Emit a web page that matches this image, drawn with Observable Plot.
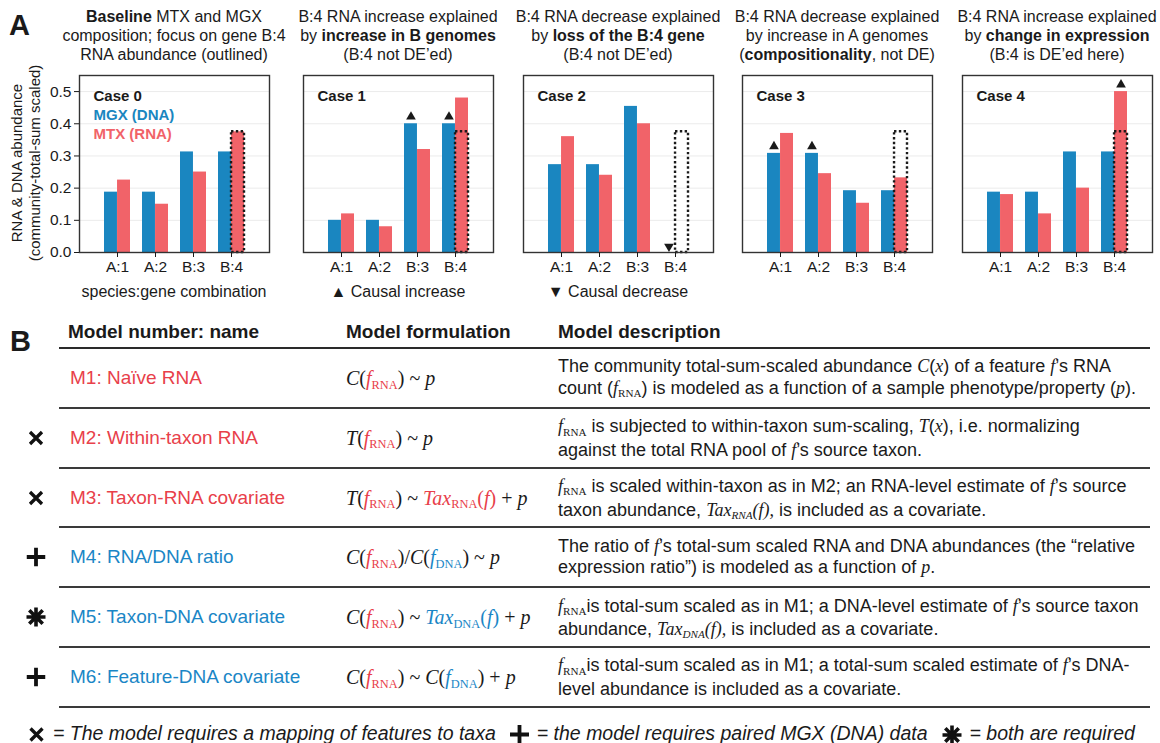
<!DOCTYPE html>
<html><head><meta charset="utf-8">
<script src="https://cdn.jsdelivr.net/npm/d3@7"></script>
<script src="https://cdn.jsdelivr.net/npm/@observablehq/plot@0.6"></script>
<style>
body{margin:0;background:#fff;}
#root{position:relative;width:1160px;height:743px;font-family:"Liberation Sans",Arial,sans-serif;color:#1a1a1a;overflow:hidden;background:#fff}
.abs{position:absolute;white-space:nowrap}
.mi{font-family:"Liberation Serif","DejaVu Serif",serif;font-style:italic}
.sb{font-family:"Liberation Serif","DejaVu Serif",serif;font-style:normal;font-size:0.62em;position:relative;top:0.3em}
.sbi{font-family:"Liberation Serif","DejaVu Serif",serif;font-style:italic;font-size:0.62em;position:relative;top:0.3em}
.r{color:#e8404a}
.bl{color:#1a86c6}
.ico{display:inline-block;vertical-align:middle}
</style></head><body><div id="root"></div><script>
// ---------------- DATA ----------------
const genes = ["A:1", "A:2", "B:3", "B:4"];
const caseNames = ["Case 0", "Case 1", "Case 2", "Case 3", "Case 4"];
// MGX (DNA) community-total-sum scaled abundance per case, per gene
const dnaValues = [
  [0.1875, 0.1875, 0.3125, 0.3125],
  [0.10, 0.10, 0.40, 0.40],
  [0.273, 0.273, 0.454, 0.0],
  [0.308, 0.308, 0.192, 0.192],
  [0.1875, 0.1875, 0.3125, 0.3125]
];
// MTX (RNA) community-total-sum scaled abundance per case, per gene
const rnaValues = [
  [0.225, 0.15, 0.25, 0.375],
  [0.12, 0.08, 0.32, 0.48],
  [0.36, 0.24, 0.40, 0.0],
  [0.37, 0.245, 0.153, 0.232],
  [0.18, 0.12, 0.20, 0.50]
];
const outlineGene = "B:4";
const outlineValue = 0.375; // baseline B:4 RNA abundance (dotted outline)
const yTicks = [0, 0.1, 0.2, 0.3, 0.4, 0.5];
const causalIncrease = [[], [["B:3", "DNA"], ["B:4", "DNA"]], [], [["A:1", "DNA"], ["A:2", "DNA"]], [["B:4", "RNA"]]];
const causalDecrease = [[], [], [["B:4", "DNA"]], [], []];
const panelTitles = [
  ["<b>Baseline</b> MTX and MGX", "composition; focus on gene B:4", "RNA abundance (outlined)"],
  ["B:4 RNA increase explained", "by <b>increase in B genomes</b>", "(B:4 not DE’ed)"],
  ["B:4 RNA decrease explained", "by <b>loss of the B:4 gene</b>", "(B:4 not DE’ed)"],
  ["B:4 RNA decrease explained", "by increase in A genomes", "(<b>compositionality</b>, not DE)"],
  ["B:4 RNA increase explained", "by <b>change in expression</b>", "(B:4 is DE’ed here)"]
];
const panelNotes = ["species:gene combination", "▲ Causal increase", "▼ Causal decrease", "", ""];
const legendLabels = ["MGX (DNA)", "MTX (RNA)"];
const yAxisTitle = ["RNA & DNA abundance", "(community-total-sum scaled)"];

// Panel B table
const headers = ["Model number: name", "Model formulation", "Model description"];
const modelNames = ["M1: Naïve RNA", "M2: Within-taxon RNA", "M3: Taxon-RNA covariate", "M4: RNA/DNA ratio", "M5: Taxon-DNA covariate", "M6: Feature-DNA covariate"];
const modelType = ["RNA", "RNA", "RNA", "DNA", "DNA", "DNA"];
const modelMarkers = ["", "cross", "cross", "plus", "star", "plus"];
const fR = `<span class="mi r">f</span><span class="sb r">RNA</span>`;
const fD = `<span class="mi bl">f</span><span class="sb bl">DNA</span>`;
const C = `<span class="mi">C</span>`, T = `<span class="mi">T</span>`, P = `<span class="mi">p</span>`;
const modelFormulas = [
  `${C}(${fR}) ~ ${P}`,
  `${T}(${fR}) ~ ${P}`,
  `${T}(${fR}) ~ <span class="r"><span class="mi">Tax</span><span class="sb">RNA</span>(<span class="mi">f</span>)</span> + ${P}`,
  `${C}(${fR})/${C}(${fD}) ~ ${P}`,
  `${C}(${fR}) ~ <span class="bl"><span class="mi">Tax</span><span class="sb">DNA</span>(<span class="mi">f</span>)</span> + ${P}`,
  `${C}(${fR}) ~ ${C}(${fD}) + ${P}`
];
const f = `<span class="mi">f</span>`;
const fRk = `<span class="mi">f</span><span class="sb">RNA</span>`;
const modelDescriptions = [
  [`The community total-sum-scaled abundance <span class="mi">C</span>(<span class="mi">x</span>) of a feature ${f}’s RNA`,
   `count (${fRk}) is modeled as a function of a sample phenotype/property (<span class="mi">p</span>).`],
  [`${fRk} is subjected to within-taxon sum-scaling, <span class="mi">T</span>(<span class="mi">x</span>), i.e. normalizing`,
   `against the total RNA pool of ${f}’s source taxon.`],
  [`${fRk} is scaled within-taxon as in M2; an RNA-level estimate of ${f}’s source`,
   `taxon abundance, <span class="mi">Tax<span class="sbi">RNA</span>(f),</span> is included as a covariate.`],
  [`The ratio of ${f}’s total-sum scaled RNA and DNA abundances (the “relative`,
   `expression ratio”) is modeled as a function of <span class="mi">p</span>.`],
  [`${fRk}is total-sum scaled as in M1; a DNA-level estimate of ${f}’s source taxon`,
   `abundance, <span class="mi">Tax<span class="sbi">DNA</span>(f),</span> is included as a covariate.`],
  [`${fRk}is total-sum scaled as in M1; a total-sum scaled estimate of ${f}’s DNA-`,
   `level abundance is included as a covariate.`]
];
const footerParts = [["cross", "= The model requires a mapping of features to taxa"], ["plus", "= the model requires paired MGX (DNA) data"], ["star", "= both are required"]];

// ---------------- LAYOUT ----------------
const BLUE = "#1a86c0", RED = "#f16369";
const root = document.getElementById("root");
function addDiv(html, style) {
  const d = document.createElement("div");
  d.className = "abs"; d.innerHTML = html; Object.assign(d.style, style); root.appendChild(d); return d;
}
function icon(kind) {
  if (kind === "cross") return `<svg class="ico" width="17" height="17" viewBox="0 0 17 17"><path d="M2.5,2.5L14.5,14.5M14.5,2.5L2.5,14.5" stroke="#111" stroke-width="3.3"/></svg>`;
  if (kind === "plus") return `<svg class="ico" width="19" height="19" viewBox="0 0 19 19"><path d="M0,9.5H19M9.5,0V19" stroke="#111" stroke-width="3.8"/></svg>`;
  const a = [0, 45, 90, 135].map(t => { const r = t * Math.PI / 180, c = Math.cos(r) * 9.5, s = Math.sin(r) * 9.5; return `M${10 - c},${10 - s}L${10 + c},${10 + s}`; }).join("");
  return `<svg class="ico" width="20" height="20" viewBox="0 0 20 20"><path d="${a}" stroke="#111" stroke-width="3.6"/><circle cx="10" cy="10" r="3.5" fill="#111"/></svg>`;
}
addDiv("A", {left: "9px", top: "8px", fontSize: "29px", fontWeight: "bold", lineHeight: "34px"});
addDiv("B", {left: "10px", top: "324px", fontSize: "29px", fontWeight: "bold", lineHeight: "34px"});

const FRAME_W = 190, FRAME_H = 177, FRAME_TOP = 75;
const ML = 40, MR = 10, MT = 5, MB = 45;
const frameLefts = [79, 303, 523, 742, 962];
const PI = 0.316, PO = 0.65;
const step = FRAME_W / (genes.length - PI + 2 * PO);
const half = step * (1 - PI) / 2;

caseNames.forEach((name, i) => {
  const data = genes.flatMap((g, j) => [
    {gene: g, series: "DNA", value: dnaValues[i][j]},
    {gene: g, series: "RNA", value: rnaValues[i][j]}
  ]);
  const lookup = ([g, s]) => data.find(d => d.gene === g && d.series === s);
  const up = causalIncrease[i].map(lookup);
  const down = causalDecrease[i].map(lookup);
  const marks = [
    Plot.gridY(yTicks.slice(1), {stroke: "#ebebeb", strokeOpacity: 1, strokeWidth: 1}),
    Plot.barY(data.filter(d => d.series === "DNA" && d.value > 0), {x: "gene", y: "value", fill: BLUE, insetRight: half}),
    Plot.barY(data.filter(d => d.series === "RNA" && d.value > 0), {x: "gene", y: "value", fill: RED, insetLeft: half}),
    Plot.barY([{gene: outlineGene, value: outlineValue}], {x: "gene", y: "value", fill: "none", stroke: "#1a1a1a", strokeWidth: 2.4, strokeDasharray: "2.4,2.4", insetLeft: half}),
    Plot.dot(up.filter(d => d.series === "DNA"), {x: "gene", y: "value", symbol: "triangle", r: 3.6, fill: "#1a1a1a", dx: -half / 2, dy: -7}),
    Plot.dot(up.filter(d => d.series === "RNA"), {x: "gene", y: "value", symbol: "triangle", r: 3.6, fill: "#1a1a1a", dx: half / 2, dy: -7}),
    Plot.dot(down, {x: "gene", y: "value", symbol: "triangle", r: 3.6, rotate: 180, fill: "#1a1a1a", dx: -half / 2, dy: -6}),
    Plot.frame({stroke: "#333", strokeWidth: 1.4}),
    Plot.axisX({tickSize: 5, tickPadding: 3, fontSize: 15.5, label: null}),
    Plot.text([name], {text: d => d, frameAnchor: "top-left", dx: 14, dy: 15, fontWeight: "bold", fontSize: 15, textAnchor: "start", fill: "#1a1a1a"})
  ];
  if (i === 0) {
    marks.push(Plot.axisY({ticks: yTicks, tickFormat: d3.format(".1f"), tickSize: 5, tickPadding: 3, fontSize: 15.5, label: null}));
    marks.push(Plot.text([legendLabels[0]], {text: d => d, frameAnchor: "top-left", dx: 14, dy: 34, fontWeight: "bold", fontSize: 15, textAnchor: "start", fill: BLUE}));
    marks.push(Plot.text([legendLabels[1]], {text: d => d, frameAnchor: "top-left", dx: 14, dy: 53, fontWeight: "bold", fontSize: 15, textAnchor: "start", fill: RED}));
  }
  const chart = Plot.plot({
    width: ML + FRAME_W + MR, height: MT + FRAME_H + MB,
    marginLeft: ML, marginRight: MR, marginTop: MT, marginBottom: MB,
    x: {domain: genes, paddingInner: PI, paddingOuter: PO, label: null},
    y: {domain: [0, 0.55], label: null, axis: i === 0 ? undefined : null},
    style: {fontFamily: '"Liberation Sans", Arial, sans-serif', fontSize: "15px", color: "#1a1a1a", background: "transparent", overflow: "visible"},
    marks
  });
  Object.assign(chart.style, {position: "absolute", left: (frameLefts[i] - ML) + "px", top: (FRAME_TOP - MT) + "px"});
  root.appendChild(chart);
  const cx = frameLefts[i] + FRAME_W / 2;
  addDiv(panelTitles[i].join("<br>"), {left: cx + "px", top: "7px", transform: "translateX(-50%)", textAlign: "center", fontSize: "16px", lineHeight: "19px"});
  if (panelNotes[i]) addDiv(panelNotes[i], {left: cx + "px", top: "282px", transform: "translateX(-50%)", fontSize: "16px", lineHeight: "20px"});
});
// y axis title
yAxisTitle.forEach((t, k) => addDiv(t, {left: (17 + 18 * k) + "px", top: "163px", transform: "translate(-50%,-50%) rotate(-90deg)", fontSize: "15px", lineHeight: "18px"}));

// ---------------- PANEL B ----------------
const LINE_L = 59, LINE_R = 1150, HEAD_LINE = 348, ROW_H = 59.8;
const colX = [68, 346, 558];
headers.forEach((h, k) => addDiv(h, {left: colX[k] + "px", top: "319px", fontSize: "19px", fontWeight: "bold", lineHeight: "26px"}));
addDiv("", {left: LINE_L + "px", top: (HEAD_LINE - 1) + "px", width: (LINE_R - LINE_L) + "px", height: "2px", background: "#2a2a2a"});
modelNames.forEach((n, i) => {
  const cy = HEAD_LINE + ROW_H * (i + 0.5);
  const col = modelType[i] === "RNA" ? "#e8404a" : "#1a86c6";
  if (modelMarkers[i]) addDiv(icon(modelMarkers[i]), {left: "36px", top: cy + "px", transform: "translate(-50%,-50%)", lineHeight: "0"});
  addDiv(n, {left: (colX[0] + 2) + "px", top: (cy - 13) + "px", fontSize: "19px", lineHeight: "26px", color: col});
  addDiv(modelFormulas[i], {left: colX[1] + "px", top: (cy - 13) + "px", fontFamily: '"Liberation Serif", serif', fontSize: "20px", lineHeight: "26px"});
  addDiv(modelDescriptions[i].join("<br>"), {left: colX[2] + "px", top: (cy - 21.5) + "px", fontSize: "18px", lineHeight: "21.5px"});
  addDiv("", {left: LINE_L + "px", top: (HEAD_LINE + ROW_H * (i + 1) - 1) + "px", width: (LINE_R - LINE_L) + "px", height: "2px", background: "#3a3a3a"});
});
addDiv(footerParts.map(([s, t], k) => `<span style="margin-left:${k ? 14 : 0}px;margin-right:8px">${icon(s)}</span>${t}`).join(""), {left: "28px", top: "722px", fontSize: "19.5px", fontStyle: "italic", lineHeight: "22px"});
</script></body></html>
